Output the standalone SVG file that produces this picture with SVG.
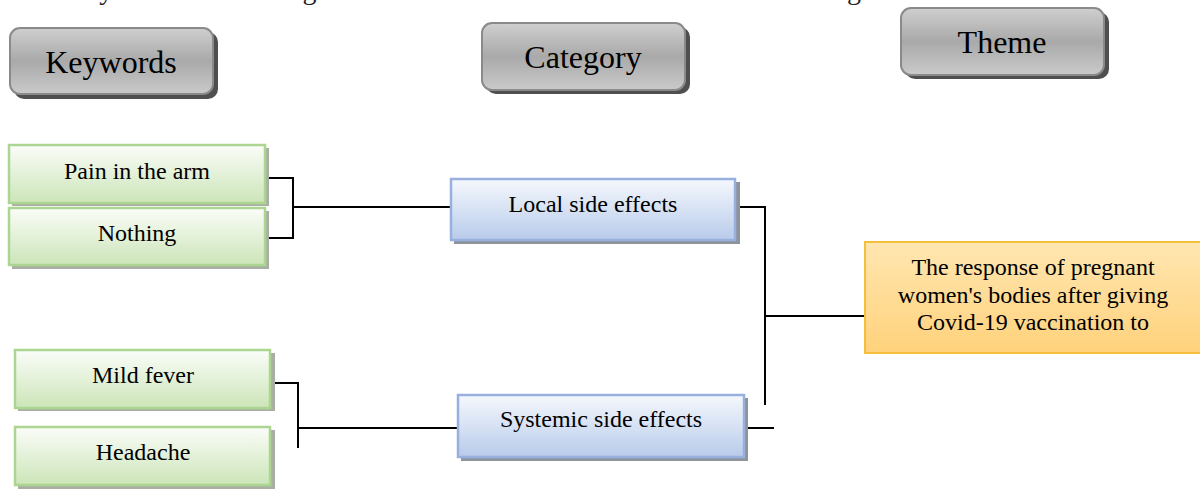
<svg xmlns="http://www.w3.org/2000/svg" width="1200" height="489" viewBox="0 0 1200 489" font-family="'Liberation Serif', 'DejaVu Serif', serif">
  <defs>
    <linearGradient id="gGray" x1="0" y1="0" x2="0" y2="1">
      <stop offset="0" stop-color="#cfcfcf"/>
      <stop offset="0.5" stop-color="#a9a9a9"/>
      <stop offset="1" stop-color="#cacaca"/>
    </linearGradient>
    <linearGradient id="gGreen" x1="0" y1="0" x2="0" y2="1">
      <stop offset="0" stop-color="#fbfdf9"/>
      <stop offset="1" stop-color="#cce5b8"/>
    </linearGradient>
    <linearGradient id="gBlue" x1="0" y1="0" x2="0" y2="1">
      <stop offset="0" stop-color="#f5f8fd"/>
      <stop offset="1" stop-color="#b8cbea"/>
    </linearGradient>
    <linearGradient id="gOrange" x1="0" y1="0" x2="0" y2="1">
      <stop offset="0" stop-color="#ffe6b0"/>
      <stop offset="1" stop-color="#ffd27c"/>
    </linearGradient>
  </defs>
  <style>
    text { font-family: 'Liberation Serif', 'DejaVu Serif', serif; fill: #000; }
    .hdr { font-size: 32px; text-anchor: middle; }
    .lbl { font-size: 24px; text-anchor: middle; }
    .top { font-size: 28px; fill: #222; }
    .hdrShadow { fill: #4f4f4f; }
    .hdrBox { fill: url(#gGray); stroke: #8a8a8a; stroke-width: 2; }
    .grShadow { fill: #a9b0a3; }
    .grBox { fill: url(#gGreen); stroke: #acd592; stroke-width: 2.5; }
    .blShadow { fill: #8e949e; }
    .blBox { fill: url(#gBlue); stroke: #98b0dd; stroke-width: 2.5; }
    .orBox { fill: url(#gOrange); stroke: #f5be3c; stroke-width: 2; }
    .conn { fill: none; stroke: #000; stroke-width: 2; }
  </style>
  <rect width="1200" height="489" fill="#fff"/>

  <text class="top" x="-6" y="-1" textLength="1000" lengthAdjust="spacing">ained keywords and categories to describe the theme as shown in Figure below:</text>

  <g id="hdr-keywords">
    <rect class="hdrShadow" x="14" y="32" width="204" height="67" rx="10"/>
    <rect class="hdrBox" x="10" y="28" width="203" height="66" rx="10"/>
    <text class="hdr" x="111" y="73">Keywords</text>
  </g>
  <g id="hdr-category">
    <rect class="hdrShadow" x="486" y="27" width="204" height="67" rx="10"/>
    <rect class="hdrBox" x="482" y="23" width="203" height="67" rx="10"/>
    <text class="hdr" x="583" y="68">Category</text>
  </g>
  <g id="hdr-theme">
    <rect class="hdrShadow" x="905" y="12" width="204" height="67" rx="10"/>
    <rect class="hdrBox" x="901" y="8" width="203" height="67" rx="10"/>
    <text class="hdr" x="1002" y="53">Theme</text>
  </g>

  <g id="connectors">
    <path class="conn" d="M265,178 H293 V238 H265 M293,207 H451"/>
    <path class="conn" d="M271,383 H298 V448 M298,428 H458"/>
    <path class="conn" d="M736,207 H765 V405"/>
    <path class="conn" d="M765,316 H865"/>
    <path class="conn" d="M745,428 H774"/>
  </g>

  <g id="kw-pain">
    <rect class="grShadow" x="12" y="148" width="257" height="58"/>
    <rect class="grBox" x="9" y="145" width="256" height="58"/>
    <text class="lbl" x="137" y="179">Pain in the arm</text>
  </g>
  <g id="kw-nothing">
    <rect class="grShadow" x="12" y="211" width="257" height="58"/>
    <rect class="grBox" x="9" y="208" width="256" height="57"/>
    <text class="lbl" x="137" y="241">Nothing</text>
  </g>
  <g id="kw-mildfever">
    <rect class="grShadow" x="18" y="353" width="257" height="58"/>
    <rect class="grBox" x="15" y="350" width="255" height="58"/>
    <text class="lbl" x="143" y="383">Mild fever</text>
  </g>
  <g id="kw-headache">
    <rect class="grShadow" x="18" y="430" width="257" height="59"/>
    <rect class="grBox" x="15" y="427" width="255" height="58"/>
    <text class="lbl" x="143" y="460">Headache</text>
  </g>

  <g id="cat-local">
    <rect class="blShadow" x="454" y="182" width="286" height="62"/>
    <rect class="blBox" x="451" y="179" width="284" height="61"/>
    <text class="lbl" x="593" y="212">Local side effects</text>
  </g>
  <g id="cat-systemic">
    <rect class="blShadow" x="461" y="398" width="287" height="63"/>
    <rect class="blBox" x="458" y="395" width="286" height="62"/>
    <text class="lbl" x="601" y="427">Systemic side effects</text>
  </g>

  <g id="theme-response">
    <rect class="orBox" x="865" y="242" width="345" height="111"/>
    <text class="lbl" x="1033" y="275">The response of pregnant</text>
    <text class="lbl" x="1033" y="303">women's bodies after giving</text>
    <text class="lbl" x="1033" y="330">Covid-19 vaccination to</text>
  </g>
</svg>
